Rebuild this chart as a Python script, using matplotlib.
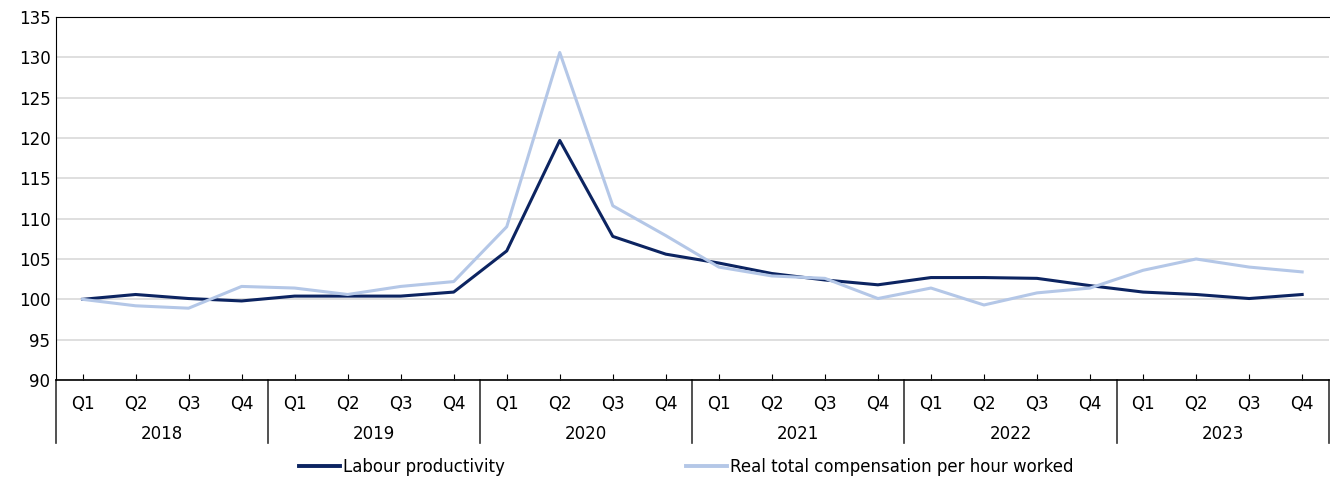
import numpy as np
import matplotlib
matplotlib.use("Agg")
import matplotlib.pyplot as plt
import matplotlib.transforms as mtransforms
from matplotlib.lines import Line2D

years = ["2018", "2019", "2020", "2021", "2022", "2023"]
quarters = ["Q1", "Q2", "Q3", "Q4"]

labour_productivity = [100.0, 100.6, 100.1, 99.8,
                       100.4, 100.4, 100.4, 100.9,
                       106.0, 119.7, 107.8, 105.6,
                       104.5, 103.2, 102.4, 101.8,
                       102.7, 102.7, 102.6, 101.7,
                       100.9, 100.6, 100.1, 100.6]
real_compensation = [100.0, 99.2, 98.9, 101.6,
                     101.4, 100.6, 101.6, 102.2,
                     109.0, 130.6, 111.6, 107.9,
                     104.0, 102.9, 102.6, 100.1,
                     101.4, 99.3, 100.8, 101.4,
                     103.6, 105.0, 104.0, 103.4]

names = ["Labour productivity", "Real total compensation per hour worked"]
colors = ["#0c2461", "#b4c7e7"]

plt.rcParams["font.family"] = ["DejaVu Sans"]
plt.rcParams["font.size"] = 12

fig = plt.figure(figsize=(13.3, 4.78), dpi=100)
ax = fig.add_axes([56 / 1330, 1 - 380 / 478, 1 - 56 / 1330 - 0.001, (380 - 17) / 478])

x = np.arange(len(years) * len(quarters))
ax.plot(x, labour_productivity, color=colors[0], lw=2.2, label=names[0])
ax.plot(x, real_compensation, color=colors[1], lw=2.2, label=names[1])

ax.set_ylim(90, 135)
ax.set_yticks(np.arange(90, 136, 5))
ax.set_xlim(-0.5, len(x) - 0.5)
ax.set_xticks(x)
ax.set_xticklabels(quarters * len(years))
ax.tick_params(axis="x", direction="in", length=4, pad=11, colors="#000000")
ax.tick_params(axis="y", length=0, pad=4)
ax.yaxis.grid(True, color="#d9d9d9", lw=1.2)
ax.set_axisbelow(True)
ax.spines["right"].set_visible(False)
for s in ["left", "bottom", "top"]:
    ax.spines[s].set_color("#000000")
ax.spines["bottom"].set_linewidth(1.2)

# year labels and separators below the axis
trans = mtransforms.blended_transform_factory(ax.transData, ax.transAxes)
for i, yr in enumerate(years):
    ax.text(i * 4 + 1.5, -0.148, yr, transform=trans, ha="center", va="center")
for i in range(len(years) + 1):
    ax.plot([i * 4 - 0.5, i * 4 - 0.5], [0, -0.1736], transform=trans,
            color="#333333", lw=1.2, clip_on=False)

handles = [Line2D([], [], color=c, lw=2.8) for c in colors]
fig.legend(handles, names, loc="center", bbox_to_anchor=(0.516, 0.023),
           ncol=2, frameon=False, handlelength=2.45, handletextpad=0.18,
           columnspacing=10.9, borderaxespad=0, borderpad=0)

fig.savefig("out.png", dpi=100)
